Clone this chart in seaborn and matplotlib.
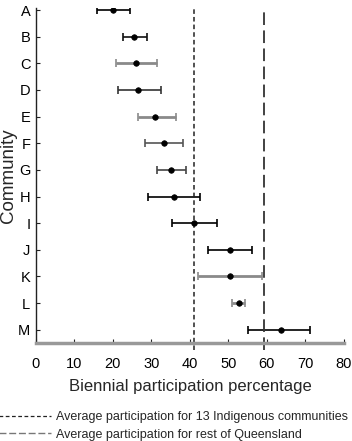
import matplotlib
matplotlib.use("Agg")
import matplotlib.pyplot as plt
import seaborn as sns
import pandas as pd
import numpy as np
from matplotlib.lines import Line2D

communities = list("ABCDEFGHIJKLM")
estimate = [20.0, 25.5, 25.9, 26.6, 31.0, 33.2, 35.1, 35.8, 41.1, 50.3, 50.5, 52.7, 63.6]
lower = [15.8, 22.6, 20.9, 21.4, 26.4, 28.3, 31.4, 29.2, 35.3, 44.8, 42.1, 51.0, 55.0]
upper = [24.5, 28.8, 31.5, 32.4, 36.5, 38.2, 39.1, 42.7, 47.0, 56.0, 58.8, 54.4, 71.2]
bar_colors = ["#000000", "#111111", "#8a8a8a", "#333333", "#8a8a8a", "#555555", "#444444",
              "#000000", "#000000", "#000000", "#8a8a8a", "#8a8a8a", "#000000"]
avg_indigenous = 41.1
avg_queensland = 59.2
xticks = list(range(0, 81, 10))

sns.set_theme(style="ticks")
plt.rcParams['font.family'] = ['Liberation Sans', 'DejaVu Sans']

df = pd.DataFrame({"Community": communities, "est": estimate, "lo": lower, "hi": upper})

fig = plt.figure(figsize=(3.52, 4.41), dpi=100)
ax = fig.add_axes([0.102, 0.222, 0.875, 0.760])

for i, row in df.iterrows():
    c = bar_colors[i]
    lw = 2.0 if c == "#8a8a8a" else 1.2
    ax.errorbar(row["est"], i, xerr=[[row["est"] - row["lo"]], [row["hi"] - row["est"]]],
                fmt="none", ecolor=c, elinewidth=lw, capsize=3, capthick=1.2)

sns.scatterplot(data=df, x="est", y=np.arange(len(df)), ax=ax, color="black",
                marker="o", s=16, edgecolor="black", linewidth=0.5, zorder=5, legend=False)

ax.axvline(avg_indigenous, color="#222222", lw=1.1, linestyle=(0, (3, 2)), ymin=-0.02, clip_on=False)
ax.axvline(avg_queensland, color="#333333", lw=1.3, linestyle=(0, (7, 3)), ymin=-0.02, clip_on=False)

ax.set_xlim(0, 80)
ax.set_ylim(12.5, -0.08)
ax.set_xticks(xticks)
ax.set_xticklabels([str(t) for t in xticks], fontsize=10.5)
ax.set_yticks(range(len(communities)))
ax.set_yticklabels(communities, fontsize=10.5)
ax.tick_params(axis="both", direction="in", length=3, width=0.8, colors="#222222", labelcolor="black")
ax.tick_params(axis="y", pad=4)
ax.tick_params(axis="x", pad=10)
sns.despine(ax=ax, top=True, right=True)
ax.spines["left"].set_color("#222222")
ax.spines["left"].set_linewidth(1.0)
ax.spines["bottom"].set_color("#999999")
ax.spines["bottom"].set_linewidth(2.5)

ax.set_xlabel("Biennial participation percentage", fontsize=12, labelpad=6)
ax.set_ylabel("Community", fontsize=13.5, labelpad=1)

handles = [Line2D([0], [0], color="#222222", lw=0.9, linestyle=(0, (3, 2))),
           Line2D([0], [0], color="#777777", lw=1.0, linestyle=(0, (5, 2)))]
labels = ["Average participation for 13 Indigenous communities",
          "Average participation for rest of Queensland"]
leg = fig.legend(handles, labels, loc="upper left", bbox_to_anchor=(-0.005, 0.068),
                 frameon=False, handlelength=4.2, handletextpad=0.45, labelspacing=0.45,
                 prop={"family": ["Liberation Sans Narrow", "Liberation Sans"], "size": 9},
                 borderaxespad=0, borderpad=0)

fig.savefig("out.png", dpi=100, facecolor="white")
